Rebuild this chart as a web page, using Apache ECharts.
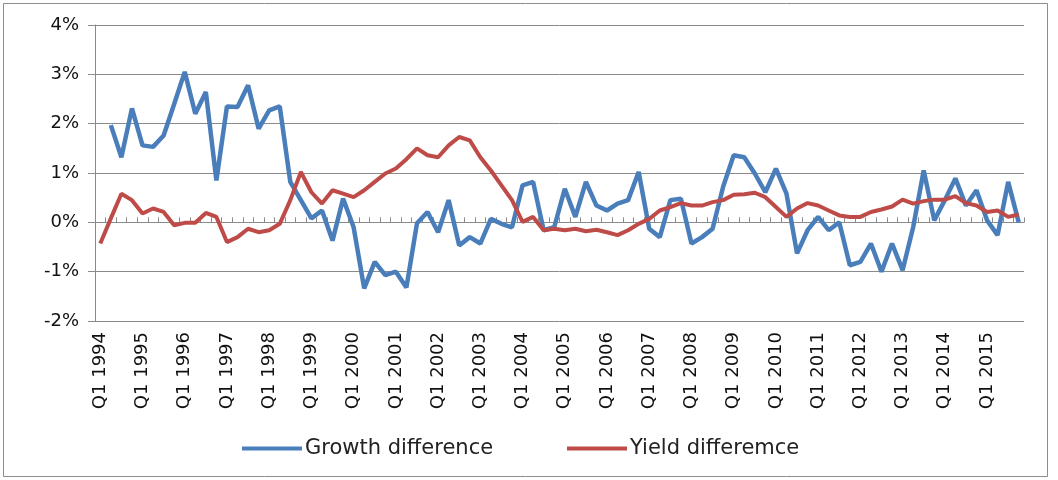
<!DOCTYPE html>
<html>
<head>
<meta charset="utf-8">
<script src="https://cdn.jsdelivr.net/npm/echarts@6/dist/echarts.min.js"></script>
<style>
  html, body { margin: 0; padding: 0; background: #fff; }
  #chart { width: 1058px; height: 480px; }
</style>
</head>
<body>
<div id="chart"></div>
<script>
// quarters Q1 1994 .. Q4 2015
const years = []
for (let y = 1994; y <= 2015; y++) years.push(y)
const quarters = ['Q1', 'Q2', 'Q3', 'Q4']
const categories = []
years.forEach(y => quarters.forEach(q => categories.push(q + ' ' + y)))

// values in percent
const growthDiff = [
  null, 1.97, 1.32, 2.31, 1.56, 1.53, 1.76, 2.4, 3.05, 2.2,
  2.64, 0.85, 2.35, 2.34, 2.78, 1.9, 2.27, 2.35, 0.82, 0.45,
  0.08, 0.24, -0.37, 0.48, -0.1, -1.34, -0.8, -1.07, -1.0, -1.32,
  -0.02, 0.21, -0.2, 0.45, -0.47, -0.3, -0.43, 0.07, -0.03, -0.1,
  0.75, 0.82, -0.16, -0.1, 0.68, 0.11, 0.82, 0.34, 0.24, 0.38,
  0.45, 1.02, -0.13, -0.3, 0.45, 0.48, -0.43, -0.3, -0.13, 0.72,
  1.36, 1.32, 0.99, 0.61, 1.09, 0.58, -0.63, -0.16, 0.11, -0.16,
  0.0, -0.87, -0.8, -0.43, -1.0, -0.43, -0.97, -0.1, 1.05, 0.04,
  0.45, 0.89, 0.34, 0.65, 0.04, -0.26, 0.82, 0.0
]
const yieldDiff = [
  -0.43, 0.08, 0.58, 0.45, 0.18, 0.28, 0.21, -0.06, -0.01, -0.01,
  0.19, 0.11, -0.4, -0.3, -0.13, -0.2, -0.16, -0.03, 0.45, 1.02,
  0.61, 0.38, 0.65, 0.58, 0.51, 0.65, 0.82, 0.99, 1.09, 1.28,
  1.5, 1.36, 1.32, 1.56, 1.73, 1.66, 1.32, 1.05, 0.75, 0.45,
  0.01, 0.11, -0.16, -0.13, -0.16, -0.13, -0.18, -0.15, -0.2, -0.26,
  -0.16, -0.03, 0.07, 0.24, 0.31, 0.39, 0.34, 0.34, 0.41, 0.45,
  0.56, 0.57, 0.6, 0.51, 0.31, 0.11, 0.28, 0.39, 0.34, 0.24,
  0.14, 0.11, 0.11, 0.21, 0.26, 0.32, 0.46, 0.38, 0.43, 0.46,
  0.46, 0.53, 0.39, 0.34, 0.21, 0.24, 0.11, 0.16
]

const font = 'DejaVu Sans'
const gridColor = '#8a8a8a'
const legendText = { fontFamily: font, fontSize: 21, color: '#222', padding: [0, 0, 0, -2] }

const chart = echarts.init(document.getElementById('chart'))
chart.setOption({
  animation: false,
  textStyle: { fontFamily: font },
  graphic: [{
    type: 'rect',
    shape: { x: 3.5, y: 3.5, width: 1044, height: 473 },
    style: { fill: 'none', stroke: '#8c8c8c', lineWidth: 1 }
  }],
  grid: { left: 95, right: 34, top: 25, bottom: 159 },
  legend: [
    {
      left: 237,
      top: 433,
      icon: 'rect',
      itemWidth: 60,
      itemHeight: 4,
      textStyle: legendText,
      data: ['Growth difference']
    },
    {
      left: 562,
      top: 433,
      icon: 'rect',
      itemWidth: 60,
      itemHeight: 4,
      textStyle: legendText,
      data: ['Yield differemce']
    }
  ],
  xAxis: [
    {
      type: 'category',
      data: categories,
      boundaryGap: true,
      axisLine: { show: false, onZero: false },
      axisTick: { show: false },
      axisLabel: {
        interval: 3,
        rotate: 90,
        margin: 11,
        fontFamily: font,
        fontSize: 18,
        color: '#111'
      }
    },
    {
      type: 'category',
      data: categories,
      boundaryGap: true,
      axisLine: { show: true, onZero: true, lineStyle: { color: gridColor, width: 1 } },
      axisTick: { show: true, interval: 0, length: 5, lineStyle: { color: gridColor } },
      axisLabel: { show: false }
    }
  ],
  yAxis: {
    type: 'value',
    min: -2,
    max: 4,
    interval: 1,
    axisLine: { show: true, lineStyle: { color: gridColor, width: 1 } },
    axisTick: { show: true, length: 7, lineStyle: { color: gridColor } },
    axisLabel: {
      formatter: '{value}%',
      margin: 16,
      fontFamily: font,
      fontSize: 18,
      color: '#111'
    },
    splitLine: { lineStyle: { color: gridColor, width: 1 } }
  },
  series: [
    {
      name: 'Growth difference',
      type: 'line',
      xAxisIndex: 0,
      data: growthDiff,
      showSymbol: false,
      symbol: 'none',
      lineStyle: { color: '#4A7EBB', width: 4.5 },
      itemStyle: { color: '#4A7EBB' }
    },
    {
      name: 'Yield differemce',
      type: 'line',
      xAxisIndex: 0,
      data: yieldDiff,
      showSymbol: false,
      symbol: 'none',
      lineStyle: { color: '#BE4B48', width: 4 },
      itemStyle: { color: '#BE4B48' }
    }
  ]
})
</script>
</body>
</html>
